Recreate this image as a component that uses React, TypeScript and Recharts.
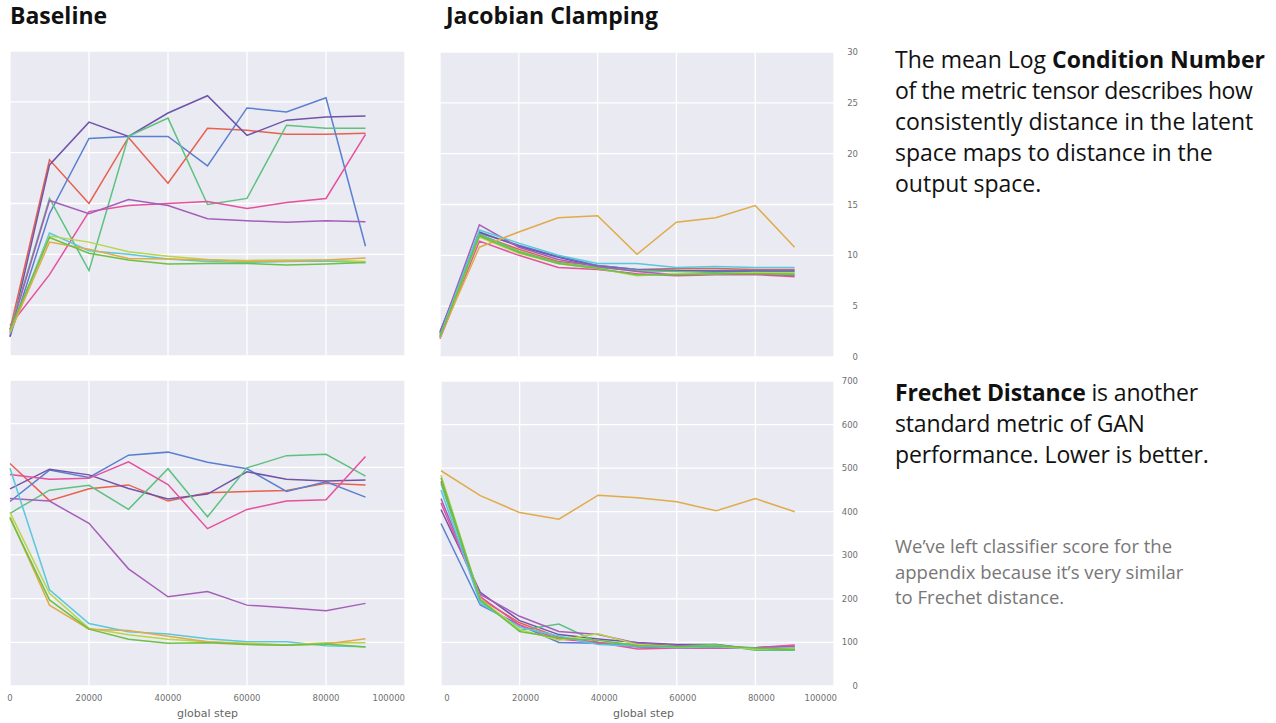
import React from "react"
import { LineChart, Line, XAxis, YAxis, CartesianGrid, Label } from "recharts"

// x positions of the logged evaluations
const steps = [0, 10000, 20000, 30000, 40000, 50000, 60000, 70000, 80000, 90000]
const xTicks = [0, 20000, 40000, 60000, 80000, 100000]
const conditionTicks = [0, 5, 10, 15, 20, 25, 30]
const frechetTicks = [0, 100, 200, 300, 400, 500, 600, 700]

// run order: red, blue, purple, green, pink, magenta, cyan, lime, orange, leaf
const runColors = ["#e8604f", "#5a7fd0", "#6f54a8", "#5dc27f", "#e6509c", "#a65fb8", "#58c8dc", "#b9d64a", "#e0ab48", "#6cc044"]

const baselineCondition = [
  [2.6, 19.3, 15.0, 21.5, 17.0, 22.4, 22.2, 21.8, 21.8, 21.9],
  [1.9, 14.0, 21.4, 21.6, 21.6, 18.7, 24.4, 24.0, 25.4, 10.8],
  [1.9, 18.8, 23.0, 21.6, 23.9, 25.6, 21.7, 23.2, 23.5, 23.6],
  [2.5, 15.5, 8.4, 21.6, 23.4, 14.9, 15.5, 22.7, 22.4, 22.4],
  [3.0, 8.0, 14.2, 14.8, 15.0, 15.2, 14.5, 15.1, 15.5, 21.8],
  [2.3, 15.3, 14.0, 15.4, 14.8, 13.5, 13.3, 13.15, 13.3, 13.2],
  [2.2, 12.1, 10.35, 10.0, 9.55, 9.3, 9.2, 9.3, 9.35, 9.2],
  [2.4, 11.8, 11.2, 10.25, 9.8, 9.5, 9.4, 9.45, 9.45, 9.3],
  [2.3, 11.2, 10.5, 9.6, 9.55, 9.45, 9.3, 9.35, 9.45, 9.65],
  [2.6, 11.65, 10.1, 9.45, 9.06, 9.1, 9.1, 8.95, 9.06, 9.2],
]

const clampedCondition = [
  [2.0, 12.0, 10.6, 9.4, 9.0, 8.6, 8.7, 8.7, 8.6, 8.6],
  [2.5, 12.2, 11.0, 9.9, 9.0, 8.6, 8.5, 8.5, 8.5, 8.5],
  [2.4, 12.3, 10.9, 9.8, 8.9, 8.5, 8.5, 8.4, 8.4, 8.4],
  [2.2, 12.1, 10.4, 9.3, 8.8, 8.5, 8.4, 8.3, 8.3, 8.2],
  [1.8, 11.4, 10.0, 8.8, 8.6, 8.2, 8.0, 8.1, 8.1, 7.9],
  [2.3, 13.0, 10.8, 9.6, 8.9, 8.4, 8.1, 8.2, 8.2, 8.0],
  [2.1, 12.5, 11.2, 10.0, 9.2, 9.2, 8.8, 8.9, 8.8, 8.8],
  [1.9, 11.8, 10.2, 9.2, 8.7, 8.0, 8.2, 8.2, 8.3, 8.3],
  [2.0, 10.8, 12.3, 13.7, 13.9, 10.1, 13.25, 13.7, 14.9, 10.8],
  [2.0, 11.9, 10.3, 9.2, 8.7, 8.1, 8.1, 8.2, 8.2, 8.1],
]

const baselineFrechet = [
  [509, 424, 451, 460, 423, 442, 445, 447, 464, 460],
  [422, 494, 477, 528, 535, 512, 497, 445, 467, 432],
  [451, 496, 483, 452, 428, 439, 490, 473, 469, 471],
  [395, 448, 459, 404, 497, 387, 499, 527, 530, 480],
  [484, 473, 475, 513, 461, 360, 404, 423, 426, 525],
  [429, 423, 372, 268, 204, 216, 185, 179, 172, 189],
  [498, 220, 143, 124, 119, 108, 101, 101, 92, 90],
  [397, 212, 132, 117, 107, 101, 98, 94, 99, 99],
  [387, 185, 130, 127, 114, 101, 96, 94, 96, 108],
  [384, 197, 130, 107, 98, 99, 95, 93, 96, 89],
]

const clampedFrechet = [
  [470, 200, 145, 112, 100, 90, 90, 88, 88, 92],
  [373, 186, 140, 100, 98, 90, 87, 88, 87, 85],
  [405, 215, 150, 118, 108, 100, 95, 95, 85, 83],
  [465, 195, 128, 142, 100, 95, 92, 95, 82, 82],
  [420, 205, 140, 108, 100, 85, 87, 87, 88, 94],
  [430, 210, 160, 125, 118, 98, 93, 90, 88, 90],
  [450, 190, 135, 115, 95, 92, 88, 90, 85, 88],
  [484, 200, 130, 105, 120, 95, 90, 92, 85, 86],
  [494, 437, 398, 383, 438, 432, 423, 402, 430, 400],
  [478, 198, 125, 110, 105, 93, 90, 92, 87, 84],
]

const tickFont = "'DejaVu Sans', sans-serif"
const textFont = "'Open Sans', sans-serif"
const PAD = 10

function toRows(runs: number[][]) {
  return steps.map((step, i) => {
    const row: Record<string, number> = { step }
    runs.forEach((run, r) => {
      row["run" + r] = run[i]
    })
    return row
  })
}

function NoTick() {
  return <g />
}

function StepTick(props: any) {
  const { x, y, payload, shift, lastShift } = props
  const last = payload.value === 100000
  return (
    <text x={x + (last ? lastShift : shift)} y={y + 15} textAnchor={last ? "end" : "middle"} fontSize={8.5} fontFamily={tickFont} fill="#707070">
      {payload.value}
    </text>
  )
}

function RightTick(props: any) {
  const { x, y, payload } = props
  return (
    <text x={x + 24} y={y + 3} textAnchor="end" fontSize={8.5} fontFamily={tickFont} fill="#707070">
      {payload.value}
    </text>
  )
}

interface PanelProps {
  runs: number[][]
  yMax: number
  yTicks: number[]
  left: number
  top: number
  plotWidth: number
  plotHeight: number
  rightAxis?: boolean
  bottomAxis?: boolean
  shift?: number
  lastShift?: number
}

function Panel({ runs, yMax, yTicks, left, top, plotWidth, plotHeight, rightAxis, bottomAxis, shift = 0, lastShift = 0 }: PanelProps) {
  const axisW = rightAxis ? 32 : 0
  const axisH = bottomAxis ? 34 : 0
  return (
    <div style={{ position: "absolute", left: left - PAD, top: top - PAD }}>
      <LineChart
        width={plotWidth + axisW + PAD * 2}
        height={plotHeight + axisH + PAD * 2}
        data={toRows(runs)}
        margin={{ top: PAD, right: PAD, bottom: PAD, left: PAD }}
      >
        <CartesianGrid fill="#eaeaf2" stroke="#ffffff" strokeWidth={1.3} />
        <XAxis
          dataKey="step"
          type="number"
          domain={[0, 100000]}
          ticks={xTicks}
          interval={0}
          height={axisH}
          axisLine={false}
          tickLine={false}
          tickSize={0}
          tickMargin={0}
          tick={bottomAxis ? <StepTick shift={shift} lastShift={lastShift} /> : <NoTick />}
        >
          {bottomAxis && (
            <Label value="global step" position="insideBottom" offset={3} dx={shift} fontSize={11} fontFamily={tickFont} fill="#666666" />
          )}
        </XAxis>
        <YAxis
          type="number"
          domain={[0, yMax]}
          ticks={yTicks}
          interval={0}
          orientation="right"
          width={axisW}
          axisLine={false}
          tickLine={false}
          tickSize={0}
          tickMargin={0}
          tick={rightAxis ? <RightTick /> : <NoTick />}
        />
        {runs.map((_, r) => (
          <Line
            key={r}
            type="linear"
            dataKey={"run" + r}
            stroke={runColors[r]}
            strokeWidth={1.5}
            dot={false}
            isAnimationActive={false}
          />
        ))}
      </LineChart>
    </div>
  )
}

const paraStyle: React.CSSProperties = {
  position: "absolute",
  left: 895,
  fontFamily: textFont,
  fontSize: 23,
  lineHeight: "31px",
  color: "#111111",
  margin: 0,
  whiteSpace: "nowrap",
}

export default function App() {
  return (
    <div style={{ position: "absolute", left: 0, top: 0, width: 1276, height: 723, background: "#ffffff", overflow: "hidden" }}>
      <div style={{ position: "absolute", left: 10, top: -1, fontFamily: textFont, fontWeight: 700, fontSize: 23, lineHeight: "32px", color: "#111" }}>
        Baseline
      </div>
      <div style={{ position: "absolute", left: 446, top: -1, fontFamily: textFont, fontWeight: 700, fontSize: 23, lineHeight: "32px", color: "#111" }}>
        Jacobian Clamping
      </div>

      <Panel runs={baselineCondition} yMax={30} yTicks={conditionTicks} left={10} top={51} plotWidth={395} plotHeight={305} />
      <Panel runs={clampedCondition} yMax={30} yTicks={conditionTicks} left={440} top={52} plotWidth={394} plotHeight={305} rightAxis />
      <Panel runs={baselineFrechet} yMax={700} yTicks={frechetTicks} left={10} top={380} plotWidth={395} plotHeight={306} bottomAxis />
      <Panel runs={clampedFrechet} yMax={700} yTicks={frechetTicks} left={441} top={381} plotWidth={393} plotHeight={305} rightAxis bottomAxis shift={6} lastShift={3} />

      <div style={{ ...paraStyle, top: 44 }}>
        The mean Log <b>Condition Number</b>
        <br />
        <span style={{ letterSpacing: -0.45 }}>of the metric tensor describes how</span>
        <br />
        consistently distance in the latent
        <br />
        space maps to distance in the
        <br />
        output space.
      </div>
      <div style={{ ...paraStyle, top: 377, letterSpacing: -0.15 }}>
        <b>Frechet Distance</b> is another
        <br />
        standard metric of GAN
        <br />
        performance. Lower is better.
      </div>
      <div style={{ ...paraStyle, top: 533, fontSize: 18.5, lineHeight: "25.5px", color: "#777777" }}>
        We’ve left classifier score for the
        <br />
        appendix because it’s very similar
        <br />
        to Frechet distance.
      </div>
    </div>
  )
}
